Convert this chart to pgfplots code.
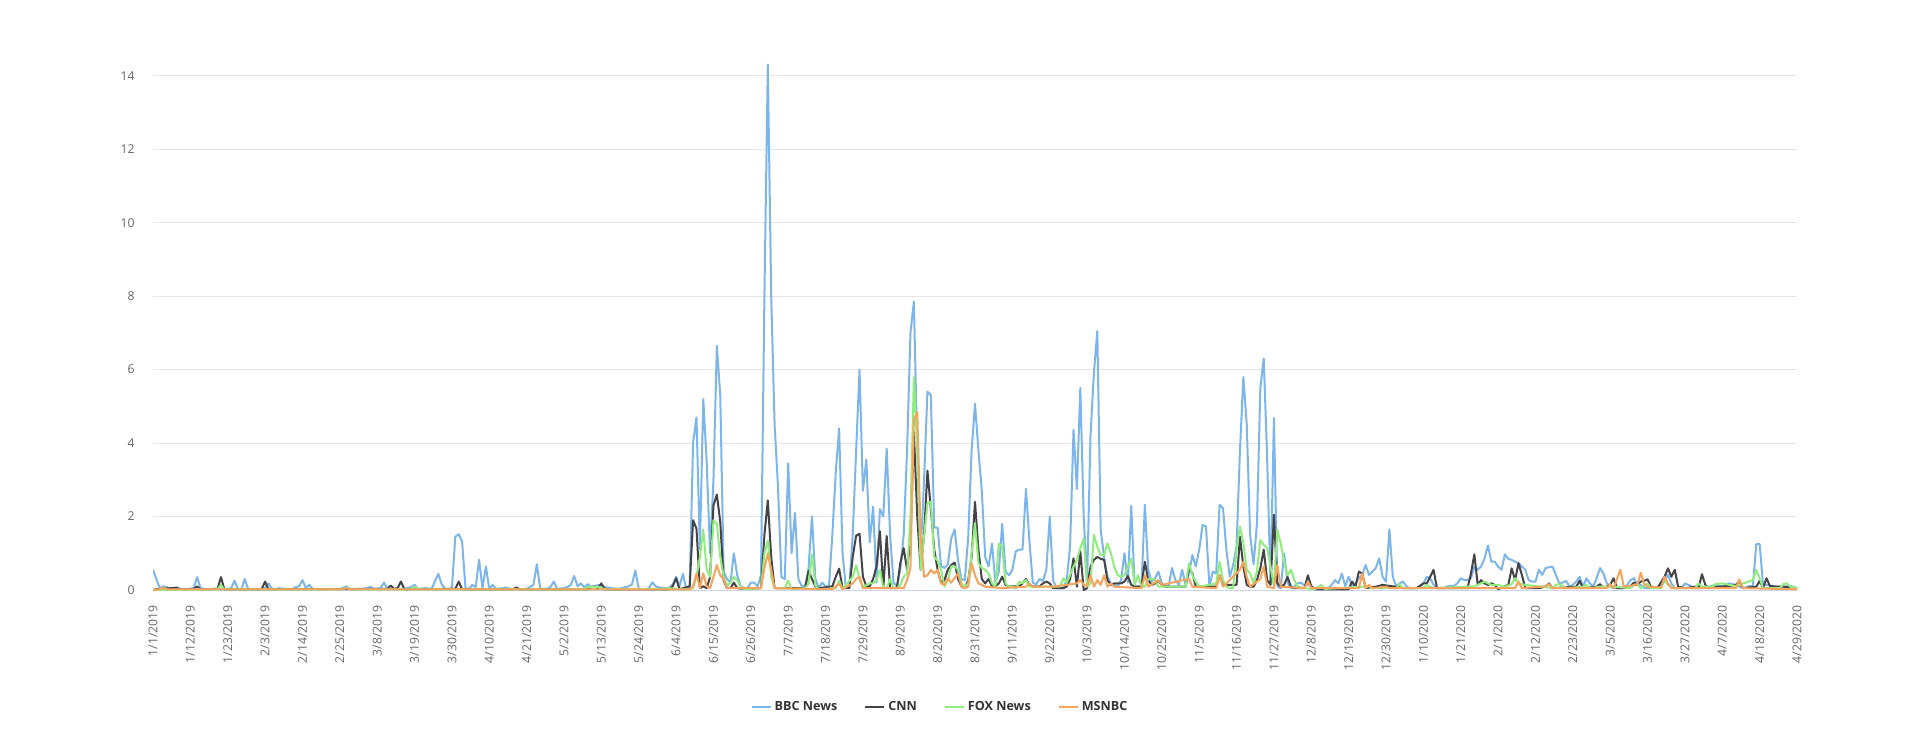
\documentclass[border=0pt]{standalone}
\usepackage{fontspec}
\setmainfont{Open Sans}
\usepackage{pgfplots}
\pgfplotsset{compat=1.18}
\definecolor{bbc}{HTML}{7CB5EC}
\definecolor{cnn}{HTML}{434348}
\definecolor{fox}{HTML}{90ED7D}
\definecolor{msnbc}{HTML}{F7A35C}
\definecolor{gridc}{HTML}{E6E6E6}
\definecolor{axisc}{HTML}{CCD6EB}
\definecolor{ticklab}{HTML}{666666}
\definecolor{legtext}{HTML}{333333}
\begin{document}
\begin{tikzpicture}
\path[use as bounding box] (0,0) rectangle (960pt,370.5pt);
\begin{axis}[
  at={(76.5pt,75.5pt)}, anchor=south west,
  scale only axis, width=822pt, height=264.5pt,
  xmin=0, xmax=484, ymin=0, ymax=14.4,
  xtick={0,11,...,484},
  xticklabels={1/1/2019,1/12/2019,1/23/2019,2/3/2019,2/14/2019,2/25/2019,3/8/2019,3/19/2019,3/30/2019,4/10/2019,4/21/2019,5/2/2019,5/13/2019,5/24/2019,6/4/2019,6/15/2019,6/26/2019,7/7/2019,7/18/2019,7/29/2019,8/9/2019,8/20/2019,8/31/2019,9/11/2019,9/22/2019,10/3/2019,10/14/2019,10/25/2019,11/5/2019,11/16/2019,11/27/2019,12/8/2019,12/19/2019,12/30/2019,1/10/2020,1/21/2020,2/1/2020,2/12/2020,2/23/2020,3/5/2020,3/16/2020,3/27/2020,4/7/2020,4/18/2020,4/29/2020},
  ytick={0,2,...,14},
  ymajorgrids, grid style={draw=gridc, line width=0.5pt},
  axis lines*=left,
  axis line style={-},
  x axis line style={draw=axisc, line width=0.5pt},
  y axis line style={draw=none},
  major tick length=0pt,
  ticklabel style={font=\fontsize{6.1}{7}\selectfont, text=ticklab},
  xticklabel style={rotate=90, anchor=east, inner sep=0pt},
  yticklabel style={anchor=east, inner sep=0pt},
  xticklabel shift=7.5pt, yticklabel shift=9pt,
  /pgf/number format/assume math mode=true,
  legend style={at={(0.479,-0.222)}, anchor=center, draw=none, fill=none,
    font=\fontsize{6.3}{7}\selectfont\bfseries\color{legtext},
    legend columns=4, /tikz/every even column/.append style={column sep=12pt},
    nodes={inner sep=1.5pt}},
  legend image code/.code={\draw[#1, line width=1pt] (0pt,0pt) -- (9.5pt,0pt);},
  every axis plot/.append style={line width=1pt, line join=round, mark=none},
]
\addplot[bbc] coordinates {(0,0.55)(1,0.3)(2,0.05)(3,0.1)(4,0.08)(5,0.02)(6,0.05)(7,0.07)(8,0.03)(10,0.02)(12,0.05)(13,0.35)(14,0.05)(16,0.02)(18,0.03)(20,0.02)(22,0.03)(23,0.05)(24,0.25)(25,0.03)(26,0.02)(27,0.3)(28,0.03)(30,0.02)(32,0.03)(33,0.05)(34,0.18)(35,0.04)(36,0.02)(37,0.05)(39,0.03)(41,0.02)(42,0.08)(43,0.1)(44,0.27)(45,0.05)(46,0.14)(47,0.03)(49,0.02)(52,0.03)(55,0.02)(57,0.1)(58,0.03)(61,0.02)(63,0.05)(64,0.09)(65,0.03)(67,0.05)(68,0.2)(69,0.03)(71,0.02)(74,0.03)(76,0.08)(77,0.14)(78,0.03)(80,0.05)(82,0.03)(84,0.44)(85,0.15)(86,0.03)(87,0.02)(88,0.05)(89,1.45)(90,1.52)(91,1.32)(92,0.05)(93,0.03)(94,0.14)(95,0.08)(96,0.82)(97,0.05)(98,0.64)(99,0.03)(100,0.14)(101,0.03)(103,0.05)(104,0.07)(105,0.03)(107,0.02)(110,0.03)(111,0.08)(112,0.14)(113,0.7)(114,0.03)(116,0.04)(117,0.08)(118,0.23)(119,0.03)(121,0.05)(122,0.08)(123,0.14)(124,0.38)(125,0.1)(126,0.18)(127,0.07)(128,0.16)(129,0.07)(130,0.1)(131,0.14)(132,0.12)(133,0.08)(135,0.05)(137,0.03)(140,0.1)(141,0.15)(142,0.53)(143,0.03)(145,0.02)(146,0.05)(147,0.21)(148,0.1)(149,0.07)(150,0.06)(151,0.05)(152,0.07)(153,0.15)(154,0.36)(155,0.1)(156,0.44)(157,0.02)(158,0.1)(159,4.0)(160,4.7)(161,1.1)(162,5.2)(163,3.5)(164,1.0)(165,3.0)(166,6.65)(167,5.3)(168,0.5)(169,0.3)(170,0.2)(171,1.0)(172,0.4)(173,0.1)(174,0.05)(175,0.05)(176,0.2)(177,0.2)(178,0.1)(179,0.4)(180,8.0)(181,14.3)(182,8.0)(183,4.5)(184,2.8)(185,0.35)(186,0.3)(187,3.45)(188,1.0)(189,2.1)(190,0.3)(191,0.1)(192,0.1)(193,0.6)(194,2.0)(195,0.3)(196,0.05)(197,0.2)(198,0.1)(199,0.1)(200,1.5)(201,3.2)(202,4.4)(203,1.0)(204,0.05)(205,0.1)(206,1.5)(207,3.8)(208,6.0)(209,2.7)(210,3.55)(211,1.3)(212,2.27)(213,0.2)(214,2.2)(215,2.0)(216,3.85)(217,1.5)(218,0.2)(219,0.1)(220,0.55)(221,1.5)(222,3.8)(223,7.0)(224,7.85)(225,3.8)(226,1.0)(227,3.0)(228,5.4)(229,5.3)(230,1.7)(231,1.7)(232,0.65)(233,0.6)(234,0.7)(235,1.4)(236,1.65)(237,0.8)(238,0.3)(239,0.27)(240,1.45)(241,3.8)(242,5.07)(243,3.8)(244,2.7)(245,0.9)(246,0.64)(247,1.27)(248,0.2)(249,0.5)(250,1.8)(251,0.5)(252,0.4)(253,0.55)(254,1.05)(255,1.1)(256,1.1)(257,2.75)(258,1.36)(259,0.2)(260,0.15)(261,0.3)(262,0.25)(263,0.55)(264,2.0)(265,0.27)(266,0.05)(267,0.05)(268,0.05)(269,0.27)(270,1.2)(271,4.36)(272,2.75)(273,5.5)(274,2.0)(275,0.2)(276,4.2)(277,5.9)(278,7.05)(279,1.64)(280,0.9)(281,0.36)(282,0.18)(283,0.14)(284,0.1)(285,0.27)(286,1.0)(287,0.2)(288,2.29)(289,0.1)(290,0.1)(291,0.1)(292,2.32)(293,0.55)(294,0.23)(295,0.32)(296,0.5)(297,0.18)(298,0.1)(299,0.1)(300,0.6)(301,0.27)(302,0.14)(303,0.55)(304,0.14)(305,0.45)(306,0.95)(307,0.64)(308,1.1)(309,1.77)(310,1.73)(311,0.1)(312,0.5)(313,0.45)(314,2.32)(315,2.23)(316,1.1)(317,0.36)(318,0.68)(319,1.2)(320,3.8)(321,5.8)(322,4.5)(323,1.5)(324,0.7)(325,1.8)(326,5.5)(327,6.3)(328,3.6)(329,0.2)(330,4.68)(331,0.1)(332,0.05)(333,1.0)(334,0.2)(335,0.05)(336,0.1)(337,0.18)(338,0.2)(339,0.12)(340,0.15)(341,0.1)(342,0.05)(344,0.02)(346,0.05)(347,0.14)(348,0.27)(349,0.18)(350,0.45)(351,0.1)(352,0.36)(353,0.1)(354,0.18)(355,0.32)(356,0.41)(357,0.68)(358,0.41)(359,0.5)(360,0.6)(361,0.86)(362,0.36)(363,0.23)(364,1.65)(365,0.36)(366,0.1)(367,0.18)(368,0.23)(369,0.1)(370,0.05)(372,0.05)(373,0.1)(374,0.18)(375,0.36)(376,0.32)(377,0.14)(378,0.05)(380,0.05)(381,0.1)(382,0.11)(383,0.11)(384,0.18)(385,0.32)(386,0.27)(387,0.27)(388,0.32)(389,0.64)(390,0.55)(391,0.64)(392,0.86)(393,1.21)(394,0.77)(395,0.77)(396,0.64)(397,0.55)(398,0.97)(399,0.85)(400,0.82)(401,0.77)(402,0.73)(403,0.64)(404,0.55)(405,0.27)(406,0.23)(407,0.23)(408,0.55)(409,0.41)(410,0.6)(411,0.62)(412,0.64)(413,0.41)(414,0.18)(415,0.2)(416,0.25)(417,0.09)(418,0.14)(419,0.23)(420,0.36)(421,0.09)(422,0.32)(423,0.18)(424,0.09)(425,0.32)(426,0.6)(427,0.45)(428,0.18)(429,0.09)(430,0.05)(432,0.05)(433,0.05)(434,0.14)(435,0.27)(436,0.32)(437,0.14)(438,0.14)(439,0.05)(441,0.05)(443,0.05)(444,0.11)(445,0.27)(446,0.41)(447,0.18)(448,0.05)(450,0.05)(451,0.18)(452,0.14)(454,0.05)(456,0.05)(458,0.09)(460,0.14)(462,0.09)(464,0.18)(466,0.14)(467,0.09)(469,0.06)(470,0.11)(471,0.09)(472,1.25)(473,1.25)(474,0.14)(475,0.14)(477,0.11)(478,0.09)(480,0.09)(482,0.11)(484,0.05)};
\addlegendentry{BBC News}
\addplot[cnn] coordinates {(0,0)(1,0.02)(3,0.03)(5,0.05)(7,0.06)(8,0.02)(12,0.03)(13,0.1)(14,0.02)(19,0.03)(20,0.35)(21,0.02)(32,0.02)(33,0.23)(34,0.02)(69,0.03)(70,0.12)(71,0.03)(72,0.05)(73,0.23)(74,0.02)(89,0.03)(90,0.23)(91,0.02)(106,0.02)(107,0.07)(108,0.02)(128,0.02)(129,0.09)(130,0.09)(131,0.05)(132,0.18)(133,0.02)(152,0.02)(153,0.1)(154,0.32)(155,0.02)(158,0.1)(159,1.9)(160,1.67)(161,0.05)(162,0.1)(163,0.05)(164,0.35)(165,2.3)(166,2.6)(167,1.85)(168,0.26)(169,0.05)(170,0.05)(171,0.2)(172,0.05)(174,0.03)(179,0.05)(180,1.5)(181,2.44)(182,0.9)(183,0.05)(192,0.05)(193,0.52)(194,0.3)(195,0.1)(196,0.05)(200,0.1)(201,0.36)(202,0.58)(203,0.05)(205,0.05)(206,0.9)(207,1.48)(208,1.53)(209,0.36)(210,0.1)(211,0.1)(212,0.3)(213,0.64)(214,1.6)(215,0.05)(216,1.47)(217,0.05)(219,0.05)(220,0.73)(221,1.14)(222,0.55)(223,1.4)(224,4.3)(225,2.0)(226,0.55)(227,1.5)(228,3.25)(229,2.2)(230,1.1)(231,0.55)(232,0.2)(233,0.27)(234,0.55)(235,0.68)(236,0.75)(237,0.3)(238,0.1)(239,0.05)(240,0.27)(241,0.9)(242,2.4)(243,1.1)(244,0.3)(245,0.18)(246,0.3)(247,0.1)(248,0.1)(249,0.18)(250,0.36)(251,0.14)(252,0.1)(255,0.1)(256,0.18)(257,0.3)(258,0.14)(259,0.1)(261,0.1)(262,0.18)(263,0.23)(264,0.18)(265,0.05)(268,0.05)(269,0.09)(270,0.3)(271,0.86)(272,0.09)(273,1.05)(274,0.0)(275,0.05)(276,0.64)(277,0.82)(278,0.9)(279,0.85)(280,0.82)(281,0.27)(282,0.14)(283,0.18)(284,0.18)(285,0.18)(286,0.23)(287,0.38)(288,0.14)(289,0.09)(291,0.09)(292,0.77)(293,0.27)(294,0.14)(295,0.18)(296,0.25)(297,0.14)(298,0.09)(304,0.09)(305,0.6)(306,0.45)(307,0.09)(313,0.09)(314,0.4)(315,0.14)(319,0.14)(320,1.45)(321,0.64)(322,0.14)(323,0.09)(324,0.09)(325,0.27)(326,0.59)(327,1.1)(328,0.27)(329,0.14)(330,2.05)(331,0.18)(332,0.09)(333,0.14)(334,0.36)(335,0.09)(336,0.05)(339,0.05)(340,0.4)(341,0.1)(342,0.02)(352,0.02)(353,0.23)(354,0.09)(355,0.5)(356,0.45)(357,0.05)(360,0.09)(362,0.14)(364,0.11)(366,0.09)(368,0.05)(372,0.05)(374,0.18)(375,0.18)(376,0.36)(377,0.55)(378,0.05)(387,0.05)(388,0.45)(389,0.97)(390,0.14)(391,0.27)(392,0.18)(393,0.14)(394,0.18)(395,0.14)(396,0.02)(399,0.14)(400,0.59)(401,0.27)(402,0.73)(403,0.41)(404,0.05)(408,0.05)(410,0.09)(411,0.18)(412,0.05)(419,0.09)(420,0.25)(421,0.05)(425,0.09)(426,0.16)(427,0.05)(429,0.14)(430,0.32)(431,0.05)(433,0.05)(435,0.11)(436,0.2)(437,0.16)(438,0.23)(439,0.25)(440,0.29)(441,0.09)(443,0.07)(445,0.36)(446,0.59)(447,0.36)(448,0.55)(449,0.09)(451,0.05)(454,0.09)(455,0.05)(456,0.43)(457,0.14)(458,0.05)(461,0.09)(464,0.11)(466,0.14)(467,0.23)(468,0.05)(472,0.09)(473,0.25)(474,0.05)(475,0.32)(476,0.11)(478,0.09)(480,0.09)(484,0.05)};
\addlegendentry{CNN}
\addplot[fox] coordinates {(0,0)(19,0.02)(20,0.14)(21,0.02)(56,0.02)(57,0.07)(58,0.02)(76,0.02)(77,0.09)(78,0.02)(127,0.02)(128,0.09)(130,0.08)(131,0.09)(133,0.02)(150,0.03)(152,0.05)(155,0.02)(158,0.02)(159,0.05)(160,0.36)(161,0.9)(162,1.65)(163,0.55)(164,0.36)(165,1.9)(166,1.8)(167,0.9)(168,0.36)(169,0.12)(170,0.2)(171,0.36)(172,0.26)(173,0.08)(174,0.02)(179,0.05)(180,1.0)(181,1.34)(182,0.36)(183,0.05)(186,0.05)(187,0.26)(188,0.02)(192,0.05)(193,0.17)(194,0.97)(195,0.12)(196,0.02)(201,0.05)(202,0.26)(203,0.02)(206,0.36)(207,0.68)(208,0.3)(209,0.08)(211,0.18)(212,0.18)(213,0.27)(214,0.55)(215,0.05)(216,0.05)(217,0.3)(218,0.05)(219,0.05)(220,0.14)(221,0.36)(222,0.45)(223,2.0)(224,5.8)(225,3.8)(226,0.55)(227,1.45)(228,2.36)(229,2.4)(230,0.9)(231,0.8)(232,0.55)(233,0.09)(234,0.27)(235,0.64)(236,0.64)(237,0.55)(238,0.18)(239,0.09)(240,0.18)(241,1.0)(242,1.82)(243,0.73)(244,0.6)(245,0.55)(246,0.45)(247,0.18)(248,0.09)(249,1.27)(250,1.18)(251,0.18)(252,0.09)(253,0.09)(254,0.05)(255,0.23)(256,0.18)(257,0.27)(258,0.09)(267,0.09)(268,0.32)(269,0.2)(270,0.41)(271,0.64)(272,0.82)(273,1.14)(274,1.4)(275,0.09)(276,0.18)(277,1.5)(278,1.18)(279,0.95)(280,0.95)(281,1.27)(282,1.0)(283,0.64)(284,0.4)(285,0.36)(286,0.4)(287,0.64)(288,0.86)(289,0.14)(290,0.4)(291,0.09)(292,0.09)(293,0.3)(294,0.3)(295,0.27)(296,0.09)(304,0.09)(305,0.73)(306,0.4)(307,0.23)(308,0.09)(313,0.18)(314,0.77)(315,0.27)(316,0.09)(317,0.05)(318,0.05)(319,1.1)(320,1.73)(321,1.27)(322,0.55)(323,0.45)(324,0.18)(325,0.5)(326,1.36)(327,1.23)(328,1.14)(329,0.64)(330,0.09)(331,1.64)(332,1.27)(333,0.77)(334,0.4)(335,0.55)(336,0.27)(337,0.09)(339,0.05)(342,0.02)(344,0.14)(345,0.03)(356,0.09)(358,0.1)(359,0.05)(366,0.05)(367,0.16)(368,0.05)(374,0.05)(375,0.14)(376,0.09)(377,0.05)(389,0.1)(390,0.14)(391,0.18)(392,0.23)(393,0.18)(394,0.14)(396,0.14)(398,0.09)(400,0.16)(401,0.32)(402,0.18)(404,0.14)(409,0.09)(412,0.05)(413,0.14)(414,0.16)(416,0.05)(421,0.09)(422,0.14)(423,0.05)(426,0.09)(430,0.09)(435,0.05)(436,0.14)(437,0.16)(438,0.05)(440,0.18)(441,0.05)(444,0.05)(445,0.27)(446,0.14)(448,0.05)(454,0.05)(455,0.18)(456,0.09)(459,0.09)(460,0.16)(462,0.18)(464,0.14)(466,0.11)(471,0.27)(472,0.55)(473,0.32)(474,0.05)(479,0.05)(480,0.16)(481,0.18)(482,0.09)(484,0.05)};
\addlegendentry{FOX News}
\addplot[msnbc] coordinates {(0,0)(2,0.02)(3,0.07)(4,0.02)(56,0.02)(57,0.05)(58,0.02)(72,0.02)(158,0.02)(159,0.1)(160,0.45)(161,0.05)(162,0.45)(163,0.1)(164,0.05)(165,0.36)(166,0.68)(167,0.4)(168,0.3)(169,0.05)(179,0.05)(180,0.6)(181,1.0)(182,0.55)(183,0.05)(200,0.02)(201,0.1)(202,0.17)(203,0.02)(206,0.18)(207,0.3)(208,0.36)(209,0.05)(220,0.05)(221,0.05)(222,0.27)(223,0.6)(224,4.64)(225,4.84)(226,1.5)(227,0.36)(228,0.4)(229,0.55)(230,0.45)(231,0.55)(232,0.18)(233,0.14)(234,0.32)(235,0.2)(236,0.32)(237,0.45)(238,0.09)(239,0.05)(240,0.09)(241,0.73)(242,0.4)(243,0.18)(244,0.14)(245,0.09)(250,0.05)(257,0.09)(258,0.18)(259,0.09)(265,0.09)(272,0.18)(273,0.27)(274,0.14)(275,0.1)(276,0.4)(277,0.09)(278,0.27)(279,0.14)(280,0.4)(281,0.09)(282,0.18)(283,0.09)(291,0.05)(292,0.4)(293,0.09)(296,0.27)(297,0.14)(305,0.3)(306,0.09)(313,0.05)(314,0.4)(315,0.09)(320,0.55)(321,0.77)(322,0.36)(323,0.09)(326,0.3)(327,0.64)(328,0.09)(330,0.05)(331,0.68)(332,0.09)(339,0.05)(340,0.23)(341,0.05)(355,0.05)(356,0.45)(357,0.05)(358,0.14)(359,0.05)(363,0.09)(364,0.05)(401,0.05)(402,0.23)(403,0.05)(410,0.1)(411,0.16)(412,0.05)(428,0.05)(429,0.16)(430,0.05)(432,0.55)(433,0.09)(437,0.14)(438,0.47)(439,0.16)(440,0.09)(444,0.07)(445,0.36)(446,0.18)(447,0.05)(466,0.05)(467,0.29)(468,0.05)(484,0.02)};
\addlegendentry{MSNBC}
\end{axis}
\end{tikzpicture}
\end{document}
